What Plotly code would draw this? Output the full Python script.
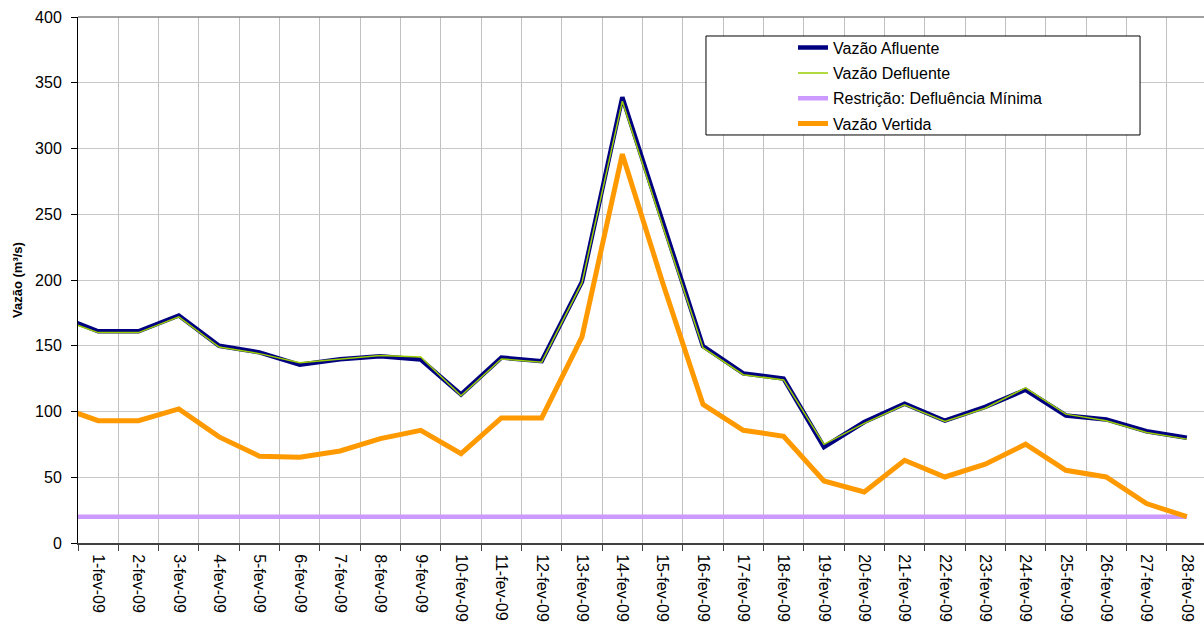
import plotly.graph_objects as go

# dias (0 = 31-jan, ponto anterior que fica cortado na borda do gráfico)
dias = list(range(0, 29))
rotulos = [f"{d}-fev-09" for d in range(1, 29)]

vazao_afluente = [173, 161, 161, 173, 150, 145, 135.5, 139.8, 142, 139.5, 113, 141, 138.3, 198.6,
                  339, 243, 149.7, 129, 125, 73, 92, 106, 93, 103.5, 116.5, 97, 94, 85, 80]
vazao_defluente = [171, 160, 160, 172, 149, 144, 137, 140, 142.5, 141.5, 112, 140, 137.5, 198,
                   336, 241, 148.5, 128, 124, 75, 91, 105, 92.5, 102.5, 118, 98, 93, 84, 79]
defluencia_minima = [20] * 29
vazao_vertida = [104, 93, 93, 102, 80.7, 66, 65.2, 70, 79.4, 85.7, 68, 95.1, 95.1, 156.8,
                 295.7, 198, 105.5, 85.7, 81.2, 47.2, 38.8, 62.9, 50.2, 59.9, 75.1, 55.3, 50.2, 30, 20]

fonte = "Liberation Sans, Arial, sans-serif"

fig = go.Figure()
fig.add_trace(go.Scatter(x=dias, y=vazao_afluente, mode="lines", name="Vazão Afluente",
                         line=dict(color="#000080", width=4.5), legendgroup="a"))
fig.add_trace(go.Scatter(x=dias, y=vazao_defluente, mode="lines", name="Vazão Defluente",
                         line=dict(color="#99CC00", width=1.5), legendgroup="b"))
fig.add_trace(go.Scatter(x=dias, y=defluencia_minima, mode="lines", name="Restrição: Defluência Mínima",
                         line=dict(color="#CC99FF", width=4.5), legendgroup="c"))
fig.add_trace(go.Scatter(x=dias, y=vazao_vertida, mode="lines", name="Vazão Vertida",
                         line=dict(color="#FF9900", width=5), legendgroup="d"))

fig.update_layout(
    width=1204, height=626,
    margin=dict(l=78, r=0, t=17, b=83),
    paper_bgcolor="white", plot_bgcolor="white",
    font=dict(family=fonte, size=16, color="black"),
    showlegend=True,
    legend=dict(x=0.635, y=0.974, xanchor="left", yanchor="top",
                bgcolor="rgba(0,0,0,0)", borderwidth=0, tracegroupgap=1.5,
                font=dict(size=16)),
    shapes=[
        dict(type="rect", xref="paper", yref="paper", x0=0.5577, x1=0.9432, y0=0.7757, y1=0.9639,
             line=dict(color="black", width=1), fillcolor="white", layer="above"),
        dict(type="line", xref="paper", yref="paper", x0=0, x1=1, y0=1, y1=1,
             line=dict(color="#808080", width=1.5)),
    ],
)

fig.update_xaxes(
    range=[0.5, 28.426],
    tickmode="array", tickvals=list(range(1, 29)), ticktext=rotulos,
    tickangle=90, ticks="", showgrid=False,
    showline=True, linecolor="#404040", linewidth=2,
    tickfont=dict(size=16), ticklabelstandoff=6,
    minor=dict(tickmode="linear", tick0=0.5, dtick=1, ticks="outside", ticklen=6,
               tickcolor="#404040", showgrid=True, gridcolor="#c0c0c0", gridwidth=1),
    zeroline=False,
)
fig.update_yaxes(
    range=[0, 400], dtick=50,
    ticks="outside", ticklen=6, tickcolor="black",
    showline=True, linecolor="black", linewidth=1,
    showgrid=True, gridcolor="#c8c8c8", gridwidth=1,
    zeroline=False, ticklabelstandoff=6,
    tickfont=dict(size=16),
    title=dict(text="<b>Vazão (m³/s)</b>", font=dict(size=13), standoff=9),
)

# tirar a margem padrão do body para a figura ficar encostada no canto
fig.write_html("out.html", config={"displayModeBar": False},
               post_script="document.body.style.margin='0';")
